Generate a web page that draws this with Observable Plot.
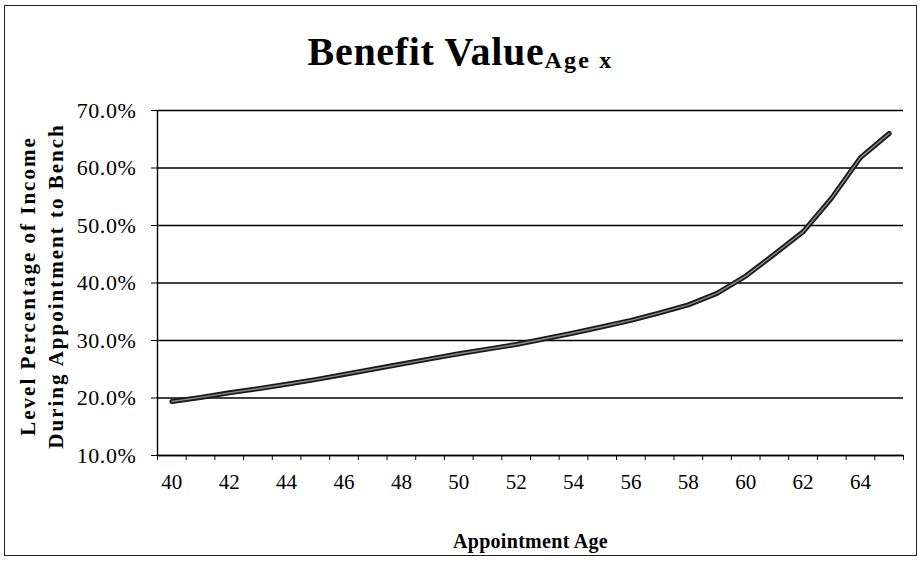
<!DOCTYPE html>
<html>
<head>
<meta charset="utf-8">
<script src="https://cdn.jsdelivr.net/npm/d3@7"></script>
<script src="https://cdn.jsdelivr.net/npm/@observablehq/plot@0.6"></script>
<style>
  html, body { margin: 0; padding: 0; background: #fff; }
  #wrap { position: relative; width: 921px; height: 563px; overflow: hidden; font-family: "Liberation Serif", "DejaVu Serif", serif; }
  #frame { position: absolute; left: 4px; top: 5px; width: 913px; height: 551px; border: 1.5px solid #222; box-sizing: border-box; }
  #title { position: absolute; left: 0; top: 32px; width: 921px; text-align: center; font-size: 40px; font-weight: bold; color: #000; line-height: 1; letter-spacing: 0.7px; white-space: nowrap; }
  #title span { font-size: 24px; letter-spacing: 2.2px; position: relative; top: 3px; }
  #chart { position: absolute; left: 0; top: 0; }
</style>
</head>
<body>
<div id="wrap">
  <div id="frame"></div>
  <div id="title">Benefit Value<span>Age x</span></div>
  <div id="chart"></div>
</div>
<script>
const ages = [40,41,42,43,44,45,46,47,48,49,50,51,52,53,54,55,56,57,58,59,60,61,62,63,64,65];
const benefit = [19.4,20.1,20.9,21.6,22.4,23.2,24.1,25.0,25.9,26.8,27.7,28.5,29.3,30.3,31.3,32.4,33.5,34.8,36.2,38.2,41.2,45.0,48.9,54.8,61.8,66.0];
const yTicks = [10,20,30,40,50,60,70];
const xTickLabels = [40,42,44,46,48,50,52,54,56,58,60,62,64];
const xTitle = "Appointment Age";
const yTitle = "Level Percentage of Income\nDuring Appointment to Bench";

const data = ages.map((a, i) => ({age: a, value: benefit[i]}));
const boundaries = d3.range(ages.length + 1).map(i => ages[0] - 0.5 + i);

const chart = Plot.plot({
  width: 921,
  height: 563,
  marginLeft: 157,
  marginRight: 18,
  marginTop: 110,
  marginBottom: 108,
  style: {fontFamily: "'Liberation Serif', serif", background: "transparent", color: "#000"},
  x: {type: "linear", domain: [ages[0] - 0.5, ages[ages.length - 1] + 0.5]},
  y: {domain: [10, 70]},
  marks: [
    Plot.gridY(yTicks, {stroke: "#000", strokeOpacity: 1, strokeWidth: 1.4}),
    Plot.axisY(yTicks, {tickSize: 6, tickPadding: 15, tickFormat: d => d.toFixed(1) + "%", fontSize: 22, label: null, stroke: "#000"}),
    Plot.axisX(boundaries, {tickSize: 5, tickFormat: () => "", label: null, stroke: "#000"}),
    Plot.axisX(xTickLabels, {tickSize: 0, tickPadding: 19, fontSize: 21, label: null}),
    Plot.ruleX([ages[0] - 0.5], {stroke: "#000", strokeWidth: 1.4}),
    Plot.ruleY([10], {stroke: "#000", strokeWidth: 1.4}),
    Plot.line(data, {x: "age", y: "value", stroke: "#1a1a1a", strokeWidth: 5}),
    Plot.line(data, {x: "age", y: "value", stroke: "#8a8a8a", strokeWidth: 1.4}),
    Plot.text([xTitle], {frameAnchor: "bottom", dy: 92, fontSize: 20, fontWeight: "bold", text: d => d}),
    Plot.text([yTitle], {frameAnchor: "left", textAnchor: "middle", dx: -117, dy: 3, rotate: -90, fontSize: 21, fontWeight: "bold", lineHeight: 1.33, text: d => d})
  ]
});
d3.select(chart).selectAll("text").each(function() {
  const t = this.textContent;
  if (t.includes("Level Percentage")) this.setAttribute("letter-spacing", "2px");
  else if (t === xTitle) this.setAttribute("letter-spacing", "0.3px");
  else if (t.endsWith("%")) this.setAttribute("letter-spacing", "0.6px");
});
document.getElementById("chart").appendChild(chart);
</script>
</body>
</html>
